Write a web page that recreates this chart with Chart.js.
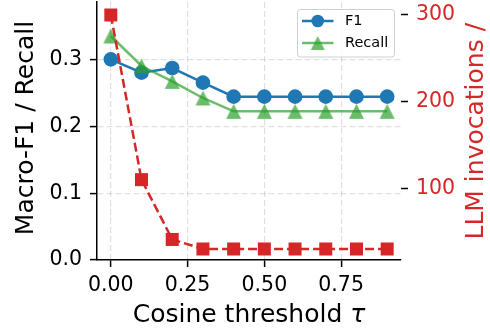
<!DOCTYPE html>
<html><head><meta charset="utf-8">
<script src="https://cdn.jsdelivr.net/npm/chart.js@4.4.1/dist/chart.umd.min.js"></script>
<style>html,body{margin:0;padding:0;background:#fff;}canvas{display:block;}</style>
</head><body>
<canvas id="c" width="490" height="333"></canvas>
<script>
// ---- data ----
const thresholds = [0.0, 0.1, 0.2, 0.3, 0.4, 0.5, 0.6, 0.7, 0.8, 0.9];
const macroF1 = [0.301, 0.281, 0.288, 0.266, 0.245, 0.245, 0.245, 0.245, 0.245, 0.245];
const recall = [0.336, 0.291, 0.268, 0.243, 0.223, 0.223, 0.223, 0.223, 0.223, 0.223];
const llmInvocations = [300, 110, 41, 30, 30, 30, 30, 30, 30, 30];
const xTicks = [0, 0.25, 0.5, 0.75];
const leftTicks = [0, 0.1, 0.2, 0.3];
const rightTicks = [100, 200, 300];
const seriesNames = ['F1', 'Recall', 'LLM invocations'];
const xTitleText = 'Cosine threshold ';
const xTitleSymbol = 'τ';
const leftTitleText = 'Macro-F1 / Recall';
const rightTitleText = 'LLM invocations /';

// ---- styles ----
const BLUE = '#1f77b4', GREEN = 'rgba(44,160,44,0.7)', RED = '#d62728';
const FONT = '"DejaVu Sans", sans-serif';
const GRID = 'rgba(0,0,0,0.12)';
const TITLE_SIZE = 25;

function triangleMarker(size, color) {
  const c = document.createElement('canvas');
  c.width = size + 2; c.height = size + 2;
  const g = c.getContext('2d');
  g.fillStyle = color;
  g.beginPath();
  g.moveTo((size + 2) / 2, 1);
  g.lineTo(size + 1, size + 1);
  g.lineTo(1, size + 1);
  g.closePath();
  g.fill();
  return c;
}
const triImg = triangleMarker(15, GREEN);
const triLegend = triangleMarker(14, GREEN);

const toPts = ys => thresholds.map((x, i) => ({x: x, y: ys[i]}));
const setTicks = arr => s => { s.ticks = arr.map(v => ({value: v})); };

const decorPlugin = {
  id: 'decor',
  afterDraw(chart) {
    const ctx = chart.ctx, ca = chart.chartArea;
    ctx.save();
    // legend
    const bw = 97, bh = 47.5;
    const bx = ca.right - 7 - bw + 0.5, by = ca.top + 7 + 0.5;
    ctx.beginPath();
    ctx.roundRect(bx, by, bw, bh, 3);
    ctx.fillStyle = 'rgba(255,255,255,0.8)';
    ctx.fill();
    ctx.strokeStyle = '#cfcfcf';
    ctx.lineWidth = 1;
    ctx.stroke();
    const hx1 = bx + 4.5, hx2 = bx + 36, hmid = (hx1 + hx2) / 2;
    const rows = [by + 11.5, by + 33.5];
    ctx.strokeStyle = BLUE; ctx.lineWidth = 2.5;
    ctx.beginPath(); ctx.moveTo(hx1, rows[0]); ctx.lineTo(hx2, rows[0]); ctx.stroke();
    ctx.fillStyle = BLUE;
    ctx.beginPath(); ctx.arc(hmid, rows[0], 6.3, 0, Math.PI * 2); ctx.fill();
    ctx.strokeStyle = GREEN;
    ctx.beginPath(); ctx.moveTo(hx1, rows[1]); ctx.lineTo(hx2, rows[1]); ctx.stroke();
    ctx.drawImage(triLegend, hmid - triLegend.width / 2, rows[1] - triLegend.height / 2);
    ctx.fillStyle = '#000';
    ctx.font = '14.5px ' + FONT;
    ctx.textBaseline = 'middle';
    ctx.textAlign = 'left';
    ctx.fillText(seriesNames[0], bx + 47.5, rows[0]);
    ctx.fillText(seriesNames[1], bx + 47.5, rows[1]);

    // x title with italic tau
    ctx.textBaseline = 'alphabetic';
    ctx.font = TITLE_SIZE + 'px ' + FONT;
    const w1 = ctx.measureText(xTitleText).width;
    ctx.font = 'italic ' + TITLE_SIZE + 'px ' + FONT;
    const w2 = ctx.measureText(xTitleSymbol).width;
    const cx = (ca.left + ca.right) / 2;
    const x0 = cx - (w1 + w2) / 2;
    ctx.font = TITLE_SIZE + 'px ' + FONT;
    ctx.fillStyle = '#000';
    ctx.fillText(xTitleText, x0, 321.5);
    ctx.font = 'italic ' + TITLE_SIZE + 'px ' + FONT;
    ctx.fillText(xTitleSymbol, x0 + w1, 321.5);

    // left title
    ctx.save();
    ctx.translate(33.3, (ca.top + ca.bottom) / 2 - 3);
    ctx.rotate(-Math.PI / 2);
    ctx.font = TITLE_SIZE + 'px ' + FONT;
    ctx.textAlign = 'center';
    ctx.fillStyle = '#000';
    ctx.fillText(leftTitleText, 0, 0);
    ctx.restore();

    // right title (reads bottom-to-top like the reference)
    ctx.save();
    ctx.translate(483, 239.5);
    ctx.rotate(-Math.PI / 2);
    ctx.font = TITLE_SIZE + 'px ' + FONT;
    ctx.textAlign = 'left';
    ctx.fillStyle = RED;
    ctx.fillText(rightTitleText, 0, 0);
    ctx.restore();

    ctx.restore();
  }
};

const tickFont = {family: FONT, size: 20.5};

new Chart(document.getElementById('c'), {
  type: 'line',
  data: {
    datasets: [
      {label: seriesNames[0], data: toPts(macroF1), yAxisID: 'y', borderColor: BLUE, backgroundColor: BLUE,
       borderWidth: 2.5, pointStyle: 'circle', pointRadius: 7.3, pointHoverRadius: 7.3, pointBorderWidth: 0, order: 3, clip: false},
      {label: seriesNames[1], data: toPts(recall), yAxisID: 'y', borderColor: GREEN, backgroundColor: GREEN,
       borderWidth: 2.5, pointStyle: triImg, pointRadius: 8, pointBorderWidth: 0, order: 2, clip: false},
      {label: seriesNames[2], data: toPts(llmInvocations), yAxisID: 'y2', borderColor: RED, backgroundColor: RED,
       borderWidth: 2.5, borderDash: [9, 4], pointStyle: 'rect', pointRadius: 9.2, pointHoverRadius: 9.2, pointBorderWidth: 0, order: 1, clip: false}
    ]
  },
  options: {
    responsive: false,
    devicePixelRatio: 1,
    animation: false,
    events: [],
    layout: {autoPadding: false, padding: {top: 2, left: 0, right: 0, bottom: 0}},
    elements: {line: {tension: 0}},
    plugins: {legend: {display: false}, tooltip: {enabled: false}},
    scales: {
      x: {
        type: 'linear', min: -0.045, max: 0.945,
        afterBuildTicks: setTicks(xTicks),
        afterFit: s => { s.height = 73; s.paddingLeft = 0; s.paddingRight = 0; },
        ticks: {callback: v => v.toFixed(2), font: tickFont, color: '#000', padding: 6, maxRotation: 0, autoSkip: false},
        grid: {color: GRID, lineWidth: 1.2, tickLength: 7, tickColor: '#000', tickWidth: 1.5},
        border: {display: true, color: '#000', width: 1.5, dash: [6, 3]}
      },
      y: {
        type: 'linear', position: 'left', min: 0, max: 0.387,
        afterBuildTicks: setTicks(leftTicks),
        afterFit: s => { s.width = 97; s.paddingTop = 0; s.paddingBottom = 0; },
        ticks: {callback: v => v.toFixed(1), font: tickFont, color: '#000', padding: 8},
        grid: {color: GRID, lineWidth: 1.2, tickLength: 7, tickColor: '#000', tickWidth: 1.5},
        border: {display: true, color: '#000', width: 1.5, dash: [6, 3]}
      },
      y2: {
        type: 'linear', position: 'right', min: 17.3, max: 315,
        afterBuildTicks: setTicks(rightTicks),
        afterFit: s => { s.width = 89; s.paddingTop = 0; s.paddingBottom = 0; },
        ticks: {callback: v => String(v), font: tickFont, color: RED, padding: 8},
        grid: {drawOnChartArea: false, tickLength: 7, tickColor: '#000', tickWidth: 1.5},
        border: {display: false}
      }
    }
  },
  plugins: [decorPlugin]
});
</script>
</body></html>
